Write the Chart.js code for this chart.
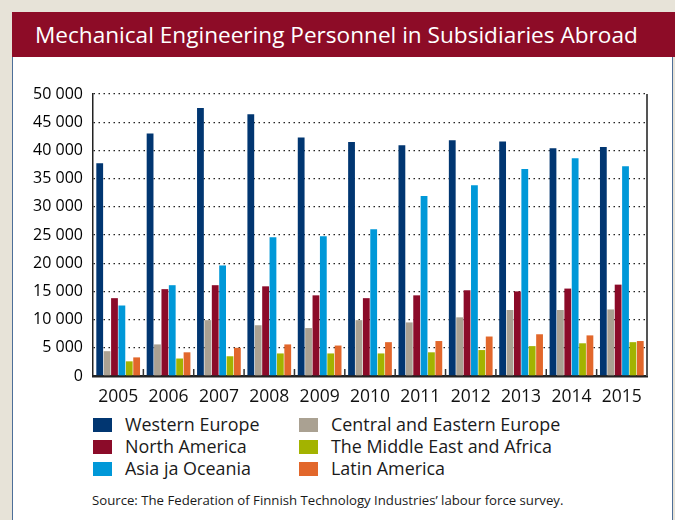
<!DOCTYPE html>
<html>
<head>
<meta charset="utf-8">
<script src="https://cdn.jsdelivr.net/npm/chart.js@4"></script>
<style>
  body { margin: 0; background: #e7e3d8; font-family: "Open Sans", sans-serif; }
  #wrap { position: relative; width: 675px; height: 520px; overflow: hidden; }
  #head { position: absolute; left: 12px; top: 12px; width: 663px; height: 45px; background: #8d0c27;
          color: #fff; font-size: 22.6px; line-height: 45px; padding-left: 23px; box-sizing: border-box; }
  #panel { position: absolute; left: 12px; top: 57px; width: 661px; height: 470px; background: #fff;
           border-left: 1.5px solid #4d6f99; border-right: 1.5px solid #4d6f99; box-sizing: border-box; }
  #chartBox { position: absolute; left: 11px; top: 58px; width: 662px; height: 352px; }
  #legend { position: absolute; left: 93px; top: 413px; width: 520px; }
  .item { position: absolute; font-size: 17.9px; color: #1a1a1a; white-space: nowrap; line-height: 22px; }
  .item span { display: inline-block; width: 19px; height: 14px; vertical-align: -1px; margin-right: 13px; }
  #source { position: absolute; left: 92px; top: 491px; font-size: 13.2px; color: #1a1a1a; }
</style>
</head>
<body>
<div id="wrap">
  <div id="head">Mechanical Engineering Personnel in Subsidiaries Abroad</div>
  <div id="panel"></div>
  <div id="chartBox"><canvas id="mainChart"></canvas></div>
  <div id="legend"></div>
  <div id="source">Source: The Federation of Finnish Technology Industries’ labour force survey.</div>
</div>
<script>
const years = ["2005", "2006", "2007", "2008", "2009", "2010", "2011", "2012", "2013", "2014", "2015"];
const yTicks = [0, 5000, 10000, 15000, 20000, 25000, 30000, 35000, 40000, 45000, 50000];

const westernEurope = [37700, 43000, 47500, 46400, 42300, 41500, 40900, 41800, 41600, 40400, 40600];
const centralEasternEurope = [4400, 5600, 9900, 9000, 8500, 9900, 9500, 10400, 11700, 11700, 11800];
const northAmerica = [13800, 15400, 16100, 15900, 14300, 13800, 14300, 15200, 15000, 15500, 16200];
const asiaOceania = [12500, 16100, 19600, 24600, 24800, 26000, 31900, 33800, 36700, 38600, 37200];
const middleEastAfrica = [2600, 3100, 3500, 4000, 4000, 4000, 4200, 4600, 5300, 5800, 6000];
const latinAmerica = [3300, 4200, 5000, 5600, 5400, 6000, 6200, 7000, 7400, 7200, 6200];

const series = [
  { label: "Western Europe", data: westernEurope, color: "#013671", col: 0, row: 0 },
  { label: "Central and Eastern Europe", data: centralEasternEurope, color: "#aaa192", col: 1, row: 0 },
  { label: "North America", data: northAmerica, color: "#8b0b29", col: 0, row: 1 },
  { label: "Asia ja Oceania", data: asiaOceania, color: "#0098d8", col: 0, row: 2 },
  { label: "The Middle East and Africa", data: middleEastAfrica, color: "#a3b300", col: 1, row: 1 },
  { label: "Latin America", data: latinAmerica, color: "#e2672b", col: 1, row: 2 },
];

// legend in html, two columns
const legendEl = document.getElementById("legend");
series.forEach(s => {
  const d = document.createElement("div");
  d.className = "item";
  d.style.left = (s.col * 206) + "px";
  d.style.top = (s.row * 22) + "px";
  d.innerHTML = '<span style="background:' + s.color + '"></span>' + s.label;
  legendEl.appendChild(d);
});

// small upward ticks between year groups + right frame line
const frame = {
  id: "frame",
  afterDatasetsDraw(chart) {
    const ctx = chart.ctx;
    const x = chart.scales.x;
    const a = chart.chartArea;
    ctx.save();
    ctx.strokeStyle = "#333";
    ctx.lineWidth = 1.5;
    for (let i = 1; i < years.length; i++) {
      const px = (x.getPixelForTick(i - 1) + x.getPixelForTick(i)) / 2;
      ctx.beginPath();
      ctx.moveTo(px, a.bottom);
      ctx.lineTo(px, a.bottom - 7);
      ctx.stroke();
    }
    ctx.strokeStyle = "#555";
    ctx.lineWidth = 2;
    ctx.beginPath();
    ctx.moveTo(a.right, a.top);
    ctx.lineTo(a.right, a.bottom);
    ctx.stroke();
    ctx.restore();
  },
};

const ctx = document.getElementById("mainChart").getContext("2d");
const mainChart = new Chart(ctx, {
  type: "bar",
  data: {
    labels: years,
    datasets: series.map(s => ({
      label: s.label,
      data: s.data,
      backgroundColor: s.color,
      categoryPercentage: 0.88,
      barPercentage: 0.92,
    })),
  },
  options: {
    responsive: true,
    maintainAspectRatio: false,
    animation: false,
    layout: { padding: { top: 36, right: 26, left: 0, bottom: 0 } },
    plugins: { legend: { display: false }, tooltip: { enabled: false } },
    scales: {
      x: {
        grid: { display: false },
        border: { color: "#222", width: 2.5 },
        ticks: { color: "#111", font: { family: "Open Sans", size: 17.5 }, padding: 3 },
        afterFit: (s) => { s.height = 34; },
      },
      y: {
        min: 0,
        max: 50000,
        afterBuildTicks: (s) => { s.ticks = yTicks.map(v => ({ value: v })); },
        afterFit: (s) => { s.width = 82; },
        grid: { color: "#222", lineWidth: 1.3, drawTicks: false },
        border: { color: "#222", width: 1.5, dash: [1.5, 3.5] },
        ticks: {
          color: "#000",
          padding: 10,
          font: { family: "Open Sans", size: 16 },
          callback: (v) => String(v).replace(/\B(?=(\d{3})+(?!\d))/g, " "),
        },
      },
    },
  },
  plugins: [frame],
});
</script>
</body>
</html>
